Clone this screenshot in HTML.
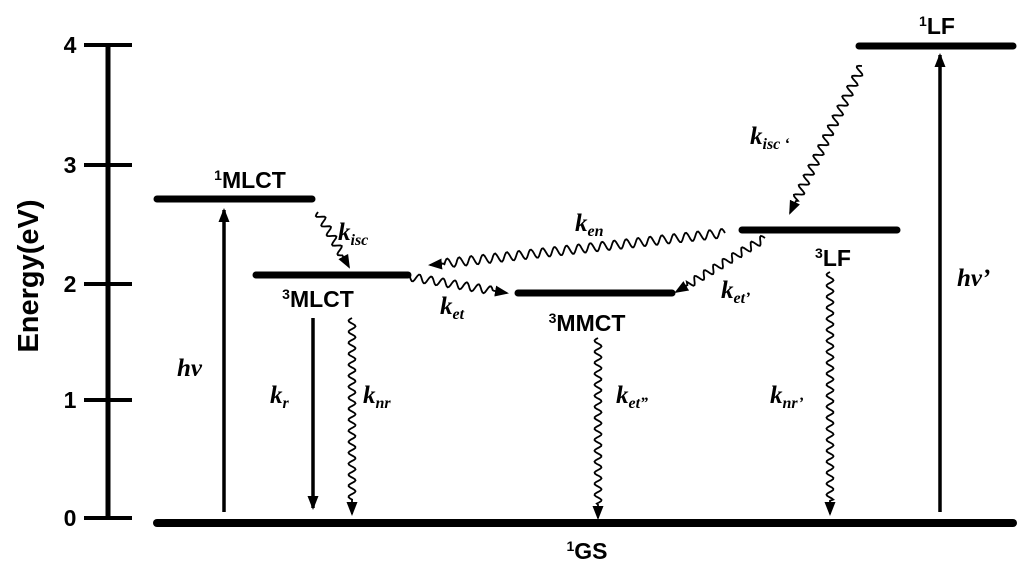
<!DOCTYPE html>
<html><head><meta charset="utf-8"><style>
html,body{margin:0;padding:0;background:#fff;}
svg{display:block;}
.t{font-family:"Liberation Sans",sans-serif;font-weight:bold;fill:#000;}
.k{font-family:"Liberation Serif",serif;font-weight:bold;font-style:italic;fill:#000;}
</style></head><body>
<svg id="s" width="1024" height="566" viewBox="0 0 1024 566" xmlns="http://www.w3.org/2000/svg">
<defs>
<marker id="a" markerWidth="14" markerHeight="14" refX="12" refY="7" orient="auto" markerUnits="userSpaceOnUse"><path d="M0,1.5 L14,7 L0,12.5 z" fill="#000"/></marker>
<marker id="b" markerWidth="14" markerHeight="14" refX="12" refY="7" orient="auto" markerUnits="userSpaceOnUse"><path d="M0,1.5 L14,7 L0,12.5 z" fill="#000"/></marker>
</defs>
<line x1="108" y1="45" x2="108" y2="519" stroke="#000" stroke-width="5"/>
<g stroke="#000" stroke-width="4">
<line x1="84" y1="45" x2="132" y2="45"/><line x1="84" y1="165" x2="132" y2="165"/>
<line x1="84" y1="284" x2="132" y2="284"/><line x1="84" y1="400" x2="132" y2="400"/>
<line x1="84" y1="518" x2="132" y2="518"/></g>
<g class="t" font-size="23" text-anchor="middle">
<text x="70" y="53">4</text><text x="70" y="173">3</text><text x="70" y="292">2</text><text x="70" y="408">1</text><text x="70" y="526">0</text></g>
<text class="t" font-size="29" text-anchor="middle" transform="translate(38,276) rotate(-90)">Energy(eV)</text>
<g stroke="#000" stroke-width="7" stroke-linecap="round">
<line x1="157" y1="199" x2="312" y2="199"/>
<line x1="256" y1="275" x2="408" y2="275"/>
<line x1="518" y1="293" x2="672" y2="293"/>
<line x1="742" y1="230" x2="897" y2="230"/>
<line x1="859" y1="46" x2="1013" y2="46"/>
<line x1="157" y1="523" x2="1013" y2="523" stroke-width="8"/>
</g>
<g class="t" font-size="23" text-anchor="middle">
<text x="250" y="188"><tspan font-size="14" dy="-8">1</tspan><tspan dy="8">MLCT</tspan></text>
<text x="318" y="307"><tspan font-size="14" dy="-8">3</tspan><tspan dy="8">MLCT</tspan></text>
<text x="587" y="331"><tspan font-size="14" dy="-8">3</tspan><tspan dy="8">MMCT</tspan></text>
<text x="833" y="266"><tspan font-size="14" dy="-8">3</tspan><tspan dy="8">LF</tspan></text>
<text x="937" y="34"><tspan font-size="14" dy="-8">1</tspan><tspan dy="8">LF</tspan></text>
<text x="587" y="559"><tspan font-size="14" dy="-8">1</tspan><tspan dy="8">GS</tspan></text>
</g>
<g stroke="#000" stroke-width="3.5" fill="none">
<line x1="224" y1="512" x2="224" y2="210" marker-end="url(#a)"/>
<line x1="313" y1="318" x2="313" y2="508" marker-end="url(#a)"/>
<line x1="940" y1="512" x2="940" y2="55" marker-end="url(#a)"/>
</g>
<g id="w" stroke="#000" stroke-width="1.8" fill="none"></g>
<g class="k" font-size="25">
<text x="177" y="376">hν</text>
<text x="957" y="286">hν’</text>
<text x="270" y="403">k<tspan font-size="16" dy="5">r</tspan></text>
<text x="363" y="403">k<tspan font-size="16" dy="5">nr</tspan></text>
<text x="338" y="240">k<tspan font-size="16" dy="5">isc</tspan></text>
<text x="575" y="231">k<tspan font-size="16" dy="5">en</tspan></text>
<text x="440" y="314">k<tspan font-size="16" dy="5">et</tspan></text>
<text x="721" y="298">k<tspan font-size="16" dy="5">et’</tspan></text>
<text x="750" y="144">k<tspan font-size="16" dy="5">isc ‘</tspan></text>
<text x="616" y="403">k<tspan font-size="16" dy="5">et”</tspan></text>
<text x="770" y="403">k<tspan font-size="16" dy="5">nr’</tspan></text>
</g>
</svg>
<script>
function wave(x1,y1,x2,y2,per,amp){
  var dx=x2-x1,dy=y2-y1,L=Math.sqrt(dx*dx+dy*dy),ux=dx/L,uy=dy/L,nx=-uy,ny=ux;
  var n=Math.floor(L/1.2),d="";
  for(var i=0;i<=n;i++){var s=i*L/n;var o=(s<L-14)?amp*Math.sin(2*Math.PI*s/per):0;
    var x=x1+ux*s+nx*o,y=y1+uy*s+ny*o;d+=(i?"L":"M")+x.toFixed(1)+","+y.toFixed(1);}
  var p=document.createElementNS("http://www.w3.org/2000/svg","path");
  p.setAttribute("d",d);p.setAttribute("marker-end","url(#b)");
  document.getElementById("w").appendChild(p);
}
wave(318,212,349,267,11,4);
wave(725,233,430,265,12,4.5);
wave(410,277,507,293,12,4);
wave(765,238,676,292,11,4);
wave(862,66,790,213,11,4.5);
wave(352,318,352,514,11,3.5);
wave(598,338,598,518,11,3.5);
wave(830,272,830,514,11,3.5);
</script>
</body></html>
